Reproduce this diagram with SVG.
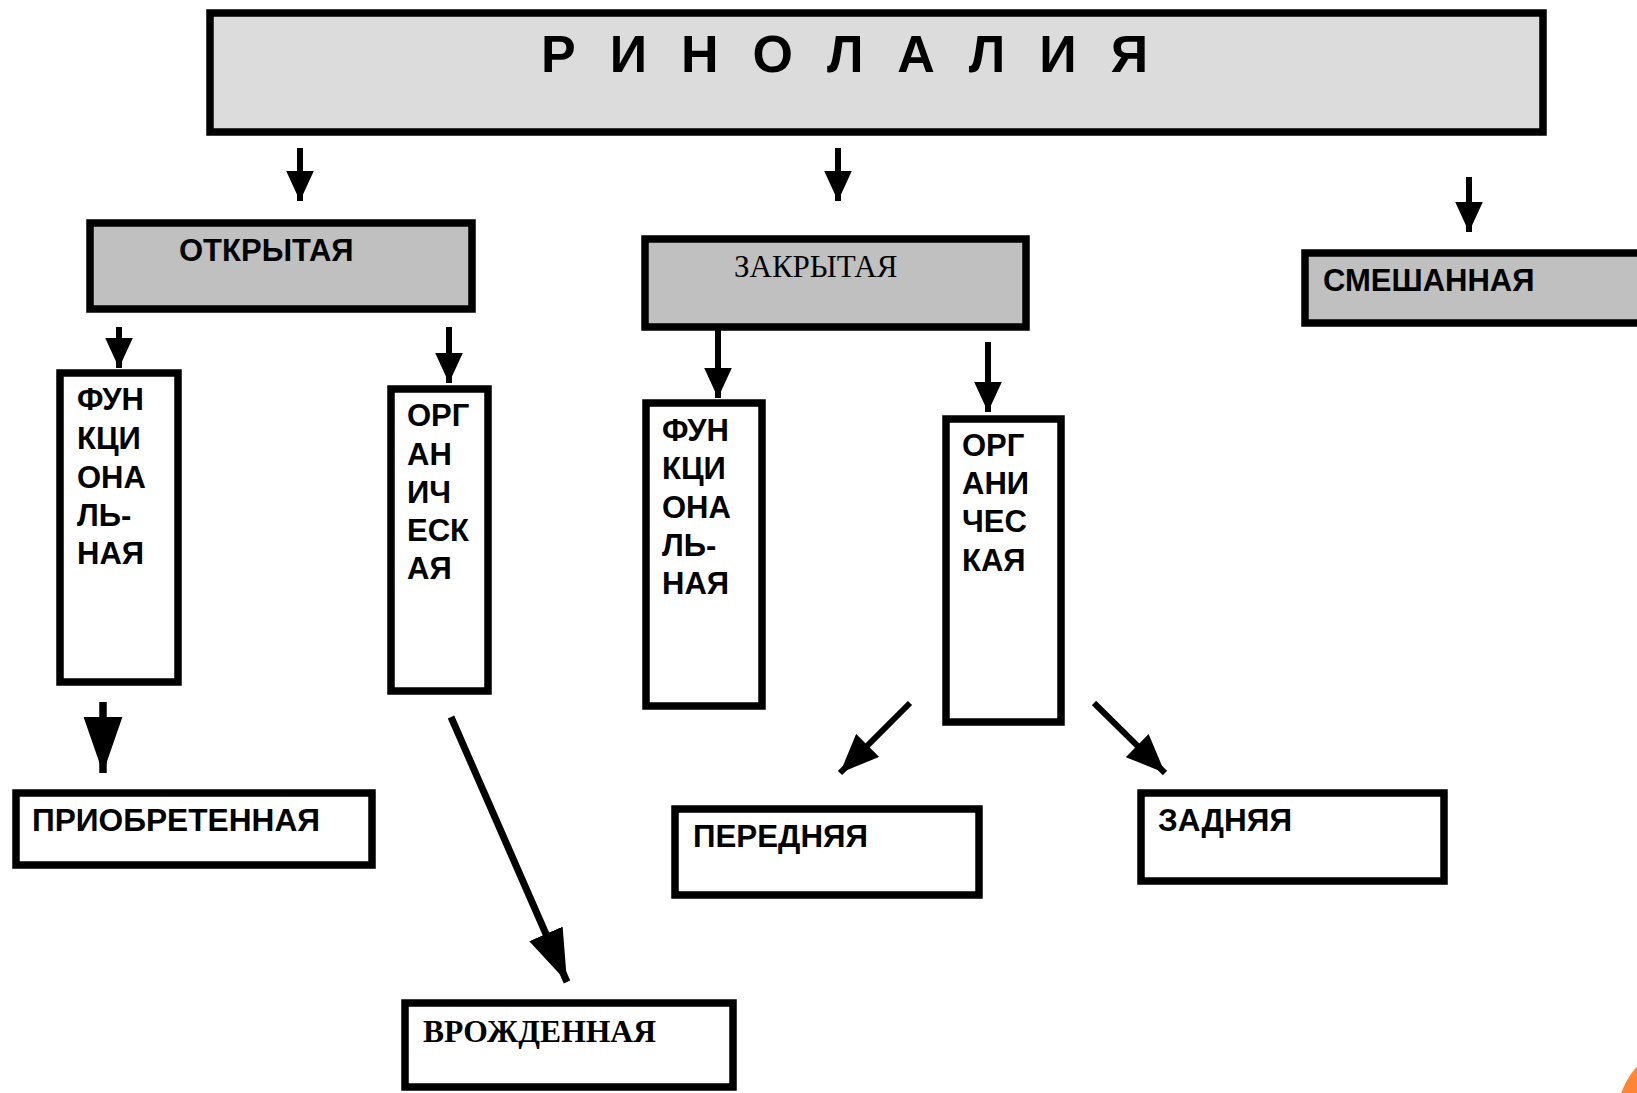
<svg xmlns="http://www.w3.org/2000/svg" width="1637" height="1093" viewBox="0 0 1637 1093">
<defs>
<style>
.box{stroke:#000;stroke-width:7.5;fill:#fff}
.g1{fill:#dcdcdc}
.g2{fill:#c0c0c0}
.t{font-family:"Liberation Sans",Arial,sans-serif;font-weight:bold;font-size:31px;fill:#000}
.s{font-family:"Liberation Serif","Times New Roman",serif;font-size:31px;fill:#000}
.c line{stroke:#000;stroke-width:6}
</style>
<marker id="ah" viewBox="0 0 10 10" refX="10" refY="5" markerWidth="5" markerHeight="4.6" orient="auto" markerUnits="strokeWidth" preserveAspectRatio="none">
<path d="M0,0 L10,5 L0,10 z" fill="#000"/>
</marker>
<marker id="ahM" viewBox="0 0 10 10" refX="10" refY="5" markerWidth="6.5" markerHeight="5.4" orient="auto" markerUnits="strokeWidth" preserveAspectRatio="none">
<path d="M0,0 L10,5 L0,10 z" fill="#000"/>
</marker>
<marker id="ahL" viewBox="0 0 10 10" refX="10" refY="5" markerWidth="7.5" markerHeight="5.2" orient="auto" markerUnits="strokeWidth" preserveAspectRatio="none">
<path d="M0,0 L10,5 L0,10 z" fill="#000"/>
</marker>
</defs>
<rect width="1637" height="1093" fill="#fff"/>
<circle cx="1700" cy="1122" r="84" fill="#fd8535"/>

<g id="n-title">
<rect class="box g1" x="210" y="13" width="1333" height="119"/>
<text class="t" x="541" y="72" style="font-size:52px" textLength="607" lengthAdjust="spacing">Р И Н О Л А Л И Я</text>
</g>
<g id="n-open">
<rect class="box g2" x="90" y="223" width="382" height="86"/>
<text class="t" x="179" y="261">ОТКРЫТАЯ</text>
</g>
<g id="n-closed">
<rect class="box g2" x="645" y="239" width="381" height="88"/>
<text class="s" x="734" y="277">ЗАКРЫТАЯ</text>
</g>
<g id="n-mixed">
<rect class="box g2" x="1305" y="253" width="340" height="70"/>
<text class="t" x="1323" y="291">СМЕШАННАЯ</text>
</g>
<g id="n-func1">
<rect class="box" x="60" y="373" width="118" height="309"/>
<text class="t"><tspan x="77" y="410">ФУН</tspan><tspan x="77" y="449">КЦИ</tspan><tspan x="77" y="488">ОНА</tspan><tspan x="77" y="526">ЛЬ-</tspan><tspan x="77" y="564">НАЯ</tspan></text>
</g>
<g id="n-org1">
<rect class="box" x="391" y="389" width="97" height="302"/>
<text class="t"><tspan x="407" y="426">ОРГ</tspan><tspan x="407" y="465">АН</tspan><tspan x="407" y="503">ИЧ</tspan><tspan x="407" y="541">ЕСК</tspan><tspan x="407" y="579">АЯ</tspan></text>
</g>
<g id="n-func2">
<rect class="box" x="646" y="403" width="116" height="303"/>
<text class="t"><tspan x="662" y="441">ФУН</tspan><tspan x="662" y="479">КЦИ</tspan><tspan x="662" y="518">ОНА</tspan><tspan x="662" y="556">ЛЬ-</tspan><tspan x="662" y="594">НАЯ</tspan></text>
</g>
<g id="n-org2">
<rect class="box" x="946" y="419" width="115" height="303"/>
<text class="t"><tspan x="962" y="456">ОРГ</tspan><tspan x="962" y="494">АНИ</tspan><tspan x="962" y="532">ЧЕС</tspan><tspan x="962" y="571">КАЯ</tspan></text>
</g>
<g id="n-acquired">
<rect class="box" x="16" y="793" width="356" height="72"/>
<text class="t" x="32" y="831" style="font-size:32px" textLength="288" lengthAdjust="spacingAndGlyphs">ПРИОБРЕТЕННАЯ</text>
</g>
<g id="n-congenital">
<rect class="box" x="405" y="1003" width="328" height="84"/>
<text class="s" x="423" y="1042" font-weight="bold" textLength="233" lengthAdjust="spacingAndGlyphs">ВРОЖДЕННАЯ</text>
</g>
<g id="n-front">
<rect class="box" x="675" y="809" width="304" height="86"/>
<text class="t" x="693" y="847" style="font-size:32px" textLength="175" lengthAdjust="spacingAndGlyphs">ПЕРЕДНЯЯ</text>
</g>
<g id="n-back">
<rect class="box" x="1141" y="793" width="303" height="88"/>
<text class="t" x="1158" y="831" style="font-size:32px" textLength="134" lengthAdjust="spacingAndGlyphs">ЗАДНЯЯ</text>
</g>

<g id="connectors" class="c">
<line x1="300" y1="148" x2="300" y2="201" marker-end="url(#ah)"/>
<line x1="838" y1="148" x2="838" y2="201" marker-end="url(#ah)"/>
<line x1="1469" y1="177" x2="1469" y2="232" marker-end="url(#ah)"/>
<line x1="119" y1="327" x2="119" y2="368" marker-end="url(#ah)"/>
<line x1="449" y1="327" x2="449" y2="383" marker-end="url(#ah)"/>
<line x1="718" y1="330" x2="718" y2="398" marker-end="url(#ah)"/>
<line x1="988" y1="342" x2="988" y2="412" marker-end="url(#ah)"/>
<line x1="103" y1="702" x2="103" y2="773" style="stroke-width:7.5" marker-end="url(#ahL)"/>
<line x1="451" y1="717" x2="567" y2="982" style="stroke-width:7" marker-end="url(#ahL)"/>
<line x1="910" y1="703" x2="840" y2="773" marker-end="url(#ahM)"/>
<line x1="1094" y1="703" x2="1165" y2="773" marker-end="url(#ahM)"/>
</g>
</svg>
